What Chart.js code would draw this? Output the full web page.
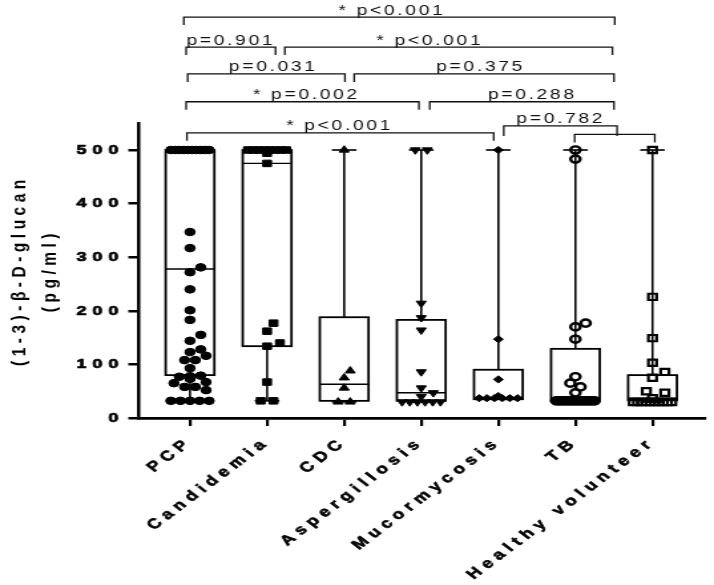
<!DOCTYPE html>
<html>
<head>
<meta charset="utf-8">
<script src="https://cdn.jsdelivr.net/npm/chart.js"></script>
<style>
  html, body { margin: 0; padding: 0; background: #fff; overflow: hidden; }
  /* the source figure is stretched sideways, so draw narrow and widen */
  #wrap { width: 537px; height: 585px; transform: scaleX(1.3296); transform-origin: 0 0; }
</style>
</head>
<body>
<div id="wrap"><canvas id="glucanChart" width="537" height="585"></canvas></div>
<script>
const groups = ["PCP", "Candidemia", "CDC", "Aspergillosis", "Mucormycosis", "TB", "Healthy volunteer"];
const yTicks = [0, 100, 200, 300, 400, 500];

// individual patients, pg/ml (500 = upper limit of the assay)
const pcpValues = [500, 500, 500, 500, 500, 500, 500, 500, 500, 500, 347, 317, 281, 272, 240, 201, 183, 155, 144,
  128, 123, 116, 108, 108, 93, 79, 78, 77, 74, 73, 67, 65, 58, 58, 52, 32, 32, 32, 32, 32];
const candidemiaValues = [500, 500, 500, 500, 500, 500, 500, 500, 494, 475, 177, 162, 140, 134, 67, 32, 32];
const cdcValues = [500, 88, 75, 56, 30, 30];
const aspergillosisValues = [500, 500, 214, 187, 164, 86, 56, 47, 40, 30, 30, 30, 30, 30, 30];
const mucorValues = [500, 147, 72, 41, 37, 37, 37, 37, 37, 37];
const tbValues = [500, 483, 177, 170, 147, 77, 65, 58, 47, 32, 32, 32, 32, 32, 32, 32, 32, 32, 32, 32, 32, 32, 32];
const healthyValues = [500, 226, 149, 103, 86, 75, 50, 47, 37, 30, 30, 30, 30, 30, 30, 30, 30, 30, 30];

// box and whiskers
const boxMin = [32, 32, 30, 30, 37, 32, 30];
const boxQ1 = [80, 134, 32, 32, 35, 32, 33];
const boxMedian = [278, 475, 63, 47, 37, 33, 37];
const boxQ3 = [500, 500, 188, 183, 90, 129, 80];
const boxMax = [500, 500, 500, 500, 500, 500, 500];

// significance brackets (x in category units, level in pg/ml above the data)
const comparisons = [
  { from: -0.08, to: 5.51, level: 748, text: "* p<0.001", at: 2.62 },
  { from: -0.05, to: 1.11, level: 692, text: "p=0.901", at: 0.53 },
  { from: 1.23, to: 5.48, level: 692, text: "* p<0.001", at: 3.11 },
  { from: -0.03, to: 2.01, level: 642, text: "p=0.031", at: 1.08 },
  { from: 2.13, to: 5.5, level: 642, text: "p=0.375", at: 3.77 },
  { from: -0.05, to: 2.97, level: 590, text: "* p=0.002", at: 1.51 },
  { from: 3.11, to: 5.5, level: 590, text: "p=0.288", at: 4.44 },
  { from: -0.04, to: 3.94, level: 532, text: "* p<0.001", at: 1.94 },
  { from: 4.07, to: 5.54, level: 545, text: "p=0.782", at: 4.81, drop: 10 },
  { from: 4.99, to: 6.03, level: 529, text: "" }
];

// simple beeswarm so the dots of one group do not sit on top of each other
function swarm(values, center, radius) {
  const pxX = 58.3, pxY = 0.536, rowWidth = 29;
  const d = radius * 2 + 0.5;
  const counts = {};
  values.forEach(v => counts[v] = (counts[v] || 0) + 1);
  const placed = [];
  const out = [];
  Object.keys(counts).forEach(k => {
    const n = counts[k];
    if (n < 2) return;
    const step = Math.min(d, rowWidth / (n - 1));
    for (let i = 0; i < n; i++) {
      const off = (i - (n - 1) / 2) * step;
      placed.push({ px: off, py: +k * pxY });
      out.push({ x: center + off / pxX, y: +k });
    }
  });
  values.filter(v => counts[v] === 1).sort((a, b) => a - b).forEach(v => {
    const py = v * pxY;
    let best = 0;
    for (let k = 0; k < 12; k++) {
      const off = (k % 2 ? 1 : -1) * Math.ceil(k / 2) * d / 2;
      if (Math.abs(off) > rowWidth / 2) break;
      const hit = placed.some(p => Math.hypot(p.px - off, p.py - py) < d * 0.9);
      if (!hit) { best = off; break; }
    }
    placed.push({ px: best, py: py });
    out.push({ x: center + best / pxX, y: v });
  });
  return out;
}

const boxPlot = {
  id: "boxPlot",
  beforeDatasetsDraw(chart) {
    const { ctx, scales: { x, y } } = chart;
    const line = (x1, y1, x2, y2) => { ctx.beginPath(); ctx.moveTo(x1, y1); ctx.lineTo(x2, y2); ctx.stroke(); };
    ctx.save();
    ctx.strokeStyle = "#000";
    groups.forEach((g, i) => {
      const cx = x.getPixelForValue(i);
      const left = x.getPixelForValue(i - 0.316), right = x.getPixelForValue(i + 0.316);
      const capL = x.getPixelForValue(i - 0.16), capR = x.getPixelForValue(i + 0.16);
      const yMax = y.getPixelForValue(boxMax[i]), yMin = y.getPixelForValue(boxMin[i]);
      const yQ1 = y.getPixelForValue(boxQ1[i]), yQ3 = y.getPixelForValue(boxQ3[i]);
      const yMed = y.getPixelForValue(boxMedian[i]);
      ctx.lineWidth = 1.6;
      line(cx, yMax, cx, yQ3);
      line(cx, yQ1, cx, yMin);
      line(capL, yMax, capR, yMax);
      line(capL, yMin, capR, yMin);
      ctx.lineWidth = 1.8;
      ctx.strokeRect(left, yQ3, right - left, yQ1 - yQ3);
      ctx.lineWidth = 1.4;
      line(left, yMed, right, yMed);
    });
    ctx.restore();
  }
};

const brackets = {
  id: "brackets",
  afterDraw(chart) {
    const { ctx, scales: { x, y } } = chart;
    ctx.save();
    ctx.strokeStyle = "#111";
    ctx.fillStyle = "#111";
    ctx.lineWidth = 1.3;
    ctx.font = '14.5px "Liberation Sans", Arial, sans-serif';
    ctx.letterSpacing = "2px";
    ctx.textAlign = "center";
    ctx.textBaseline = "alphabetic";
    comparisons.forEach(c => {
      const x1 = x.getPixelForValue(c.from), x2 = x.getPixelForValue(c.to);
      const yy = y.getPixelForValue(c.level);
      const drop = c.drop || 8;
      ctx.beginPath();
      ctx.moveTo(x1, yy + drop);
      ctx.lineTo(x1, yy);
      ctx.lineTo(x2, yy);
      ctx.lineTo(x2, yy + drop);
      ctx.stroke();
      if (c.text) ctx.fillText(c.text, x.getPixelForValue(c.at), yy - 2.5);
    });
    ctx.restore();
  }
};

// GraphPad-like wide lettering for axis texts
const spacing = {
  id: "spacing",
  beforeLayout(chart) { chart.ctx.letterSpacing = "4.5px"; },
  beforeDraw(chart) { chart.ctx.letterSpacing = "4.5px"; }
};

const fontFamily = '"Liberation Sans", Arial, sans-serif';

const makeSet = (values, i, style) => Object.assign({
  data: swarm(values, i, style.pointRadius),
  backgroundColor: "#000",
  borderColor: "#000",
  borderWidth: 1,
  showLine: false
}, style);

new Chart(document.getElementById("glucanChart"), {
  type: "scatter",
  data: {
    datasets: [
      makeSet(pcpValues, 0, { pointStyle: "circle", pointRadius: 3.8 }),
      makeSet(candidemiaValues, 1, { pointStyle: "rect", pointRadius: 4.6 }),
      makeSet(cdcValues, 2, { pointStyle: "triangle", pointRadius: 4.3 }),
      makeSet(aspergillosisValues, 3, { pointStyle: "triangle", pointRadius: 4.3, rotation: 180 }),
      makeSet(mucorValues, 4, { pointStyle: "rectRot", pointRadius: 3.6 }),
      makeSet(tbValues, 5, { pointStyle: "circle", pointRadius: 3.6, backgroundColor: "rgba(0,0,0,0)", borderWidth: 2.4 }),
      makeSet(healthyValues, 6, { pointStyle: "rect", pointRadius: 4.4, backgroundColor: "rgba(0,0,0,0)", borderWidth: 2.2 })
    ]
  },
  options: {
    responsive: false,
    animation: false,
    layout: { padding: { top: 123.2, right: 4.5, left: 0, bottom: 0 } },
    plugins: { legend: { display: false }, tooltip: { enabled: false } },
    scales: {
      x: {
        type: "linear",
        min: -0.671,
        max: 6.684,
        afterBuildTicks: (scale) => { scale.ticks = groups.map((g, i) => ({ value: i })); },
        afterFit: (scale) => { scale.height = 167; scale.paddingLeft = 0; scale.paddingRight = 0; },
        ticks: {
          autoSkip: false,
          minRotation: 45,
          maxRotation: 45,
          padding: 8,
          color: "#000",
          textStrokeColor: "#000",
          textStrokeWidth: 0.6,
          font: { family: fontFamily, weight: "bold", size: 14 },
          callback: (value) => groups[value]
        },
        grid: { drawOnChartArea: false, drawTicks: true, tickLength: 8, color: "#000", lineWidth: 2.2 },
        border: { color: "#000", width: 2.7 }
      },
      y: {
        min: 0,
        max: 550,
        afterBuildTicks: (scale) => { scale.ticks = yTicks.map(v => ({ value: v })); },
        afterFit: (scale) => { scale.width = 104; scale.paddingTop = 0; scale.paddingBottom = 0; },
        ticks: {
          padding: 3,
          color: "#000",
          textStrokeColor: "#000",
          textStrokeWidth: 0.7,
          font: { family: fontFamily, weight: "bold", size: 13.5 }
        },
        grid: { drawOnChartArea: false, drawTicks: true, tickLength: 7.5, color: "#000", lineWidth: 2.5 },
        border: { color: "#000", width: 2.5 },
        title: {
          display: true,
          text: ["(1-3)-\u03b2-D-glucan", "(pg/ml)"],
          color: "#000",
          padding: { top: 3.7, bottom: 0 },
          font: { family: fontFamily, weight: "bold", size: 15.5, lineHeight: 1.46 }
        }
      }
    }
  },
  plugins: [spacing, boxPlot, brackets]
});
</script>
</body>
</html>
